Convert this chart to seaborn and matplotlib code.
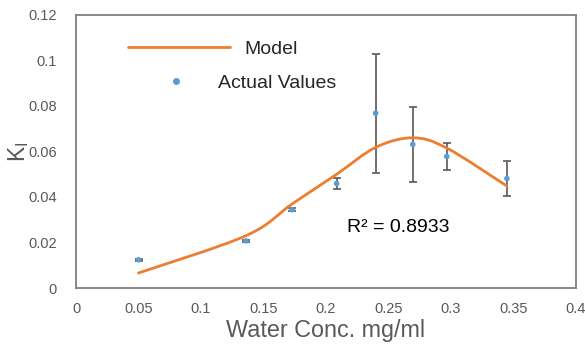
import numpy as np
import pandas as pd
import seaborn as sns
import matplotlib
matplotlib.use("Agg")
import matplotlib.pyplot as plt
from matplotlib.path import Path
from matplotlib.patches import PathPatch
from matplotlib.lines import Line2D

# Measured water concentration (mg/ml), K_I values and their error
water_conc = [0.05, 0.136, 0.173, 0.2085, 0.2397, 0.2694, 0.2966, 0.3447]
k_actual = [0.0124, 0.0207, 0.0344, 0.0459, 0.0768, 0.0631, 0.0578, 0.0481]
k_error = [0.0004, 0.0004, 0.0006, 0.0025, 0.0262, 0.0163, 0.0058, 0.0075]
# Model prediction at the same concentrations
k_model = [0.0066, 0.0230, 0.0370, 0.0500, 0.0618, 0.0660, 0.0615, 0.0448]

x_ticks = [0, 0.05, 0.1, 0.15, 0.2, 0.25, 0.3, 0.35, 0.4]
x_tick_labels = ["0", "0.05", "0.1", "0.15", "0.2", "0.25", "0.3", "0.35", "0.4"]
y_ticks = [0, 0.02, 0.04, 0.06, 0.08, 0.1, 0.12]
y_tick_labels = ["0", "0.02", "0.04", "0.06", "0.08", "0.1", "0.12"]
r2_text = "R² = 0.8933"

df = pd.DataFrame({"conc": water_conc, "k": k_actual, "err": k_error, "model": k_model})

sns.set_theme(style="white")
plt.rcParams["font.family"] = ["Liberation Sans", "DejaVu Sans"]

BLUE = "#5B9BD5"
ORANGE = "#ED7D31"
GRAY = "#595959"

fig = plt.figure(figsize=(5.85, 3.47), dpi=100)
ax = fig.add_axes([0.13, 0.170, 0.8546, 0.787])


def smooth_path(xs, ys, tension=1 / 6):
    """Cubic Bezier path through the given points (Catmull-Rom style)."""
    pts = np.column_stack([xs, ys])
    verts = [tuple(pts[0])]
    codes = [Path.MOVETO]
    n = len(pts)
    for i in range(n - 1):
        p0 = pts[i - 1] if i > 0 else pts[i]
        p1 = pts[i]
        p2 = pts[i + 1]
        p3 = pts[i + 2] if i + 2 < n else pts[i + 1]
        c1 = p1 + (p2 - p0) * tension
        c2 = p2 - (p3 - p1) * tension
        verts += [tuple(c1), tuple(c2), tuple(p2)]
        codes += [Path.CURVE4] * 3
    return Path(verts, codes)


# Model curve (smoothed line)
ax.add_patch(PathPatch(smooth_path(df["conc"].to_numpy(), df["model"].to_numpy()),
                       facecolor="none", edgecolor=ORANGE, lw=2.0, zorder=3,
                       capstyle="round"))

# Actual values with error bars
ax.errorbar(df["conc"], df["k"], yerr=df["err"], fmt="none", ecolor=GRAY,
            elinewidth=1.2, capsize=3.2, capthick=1.2, zorder=2)
sns.scatterplot(data=df, x="conc", y="k", ax=ax, color=BLUE, s=16,
                edgecolor="none", zorder=4, legend=False)

ax.set_xlim(0, 0.4)
ax.set_ylim(0, 0.12)
ax.set_xticks(x_ticks)
ax.set_xticklabels(x_tick_labels)
ax.set_yticks(y_ticks)
ax.set_yticklabels(y_tick_labels)
ax.tick_params(axis="both", length=0, labelsize=10.5, labelcolor=GRAY)
ax.tick_params(axis="x", pad=10)
ax.tick_params(axis="y", pad=14)

for sp in ax.spines.values():
    sp.set_color("#7f7f7f")
    sp.set_linewidth(1.3)

ax.set_xlabel("Water Conc. mg/ml", fontsize=16.8, color=GRAY, labelpad=2)
ax.set_ylabel("K$_\\mathregular{I}$", fontsize=16.5, color=GRAY, labelpad=-2)

ax.text(0.2164, 0.0265, r2_text, fontsize=14, color="black", va="center", ha="left")

# Legend: each entry laid out on its own
model_handle = Line2D([], [], color=ORANGE, lw=2)
actual_handle = Line2D([], [], color=BLUE, marker="o", markersize=4, lw=0)
leg_model = ax.legend([model_handle], ["Model"], loc="upper left",
                      bbox_to_anchor=(0.104, 0.908), frameon=False, fontsize=14,
                      handlelength=5.25, handletextpad=0.72,
                      borderpad=0, borderaxespad=0)
ax.add_artist(leg_model)
ax.legend([actual_handle], ["Actual Values"], loc="upper left",
          bbox_to_anchor=(0.161, 0.784), frameon=False, fontsize=14,
          handlelength=2.0, handletextpad=1.15,
          borderpad=0, borderaxespad=0)

fig.savefig("out.png", dpi=100)
